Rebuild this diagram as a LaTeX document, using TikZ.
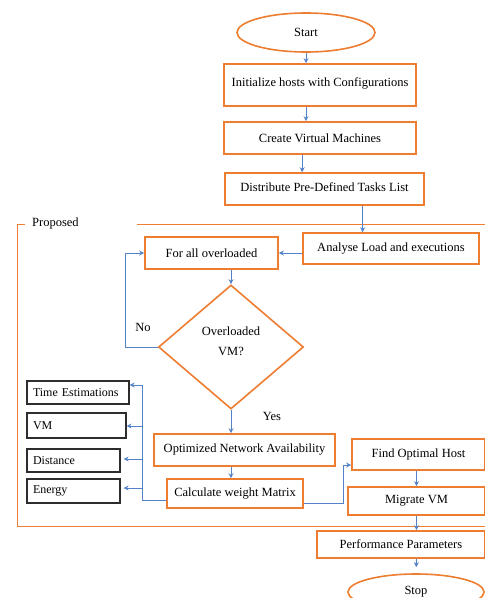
\documentclass[tikz,border=0pt]{standalone}
\usepackage{fontspec}
\setmainfont{Liberation Serif}
\usetikzlibrary{shapes.geometric,arrows.meta,calc}
\definecolor{org}{RGB}{237,125,49}
\definecolor{conn}{RGB}{84,130,200}
\definecolor{kline}{RGB}{45,45,45}
\begin{document}
\begin{tikzpicture}[x=1pt,y=-1pt,
  every node/.style={font=\fontsize{12.5}{14}\selectfont},
  obox/.style={draw=org,line width=1.6pt,inner sep=0pt,rectangle},
  oell/.style={draw=org,line width=1.6pt,inner sep=0pt,ellipse},
  dia/.style={draw=org,line width=1.6pt,inner sep=0pt,diamond},
  kbox/.style={draw=kline,line width=1.2pt,inner ysep=0pt,inner xsep=6pt,align=left,rectangle,font=\fontsize{12}{14}\selectfont},
  frameline/.style={draw=org,line width=1pt},
  link/.style={draw=conn,line width=0.9pt},
  arr/.style={link,-{Stealth[length=5pt,width=5pt]}},
  lbl/.style={inner sep=0pt}]
\useasboundingbox (0,0) rectangle (485,598);
\clip (0,0) rectangle (485,598);

% proposed frame
\node[lbl,anchor=west] (prop) at (32,223) {Proposed};
\draw[frameline] (25,224) -- (17,224) -- (17,526) -- (490,526);
\draw[frameline] (137,224) -- (490,224);

% main flow
\node[oell,minimum width=138pt,minimum height=39pt] (start) at (306,32.5) {Start};
\node[obox,minimum width=192pt,minimum height=42pt] (init) at (320,85) {\raisebox{5pt}{Initialize hosts with Configurations}};
\node[obox,minimum width=192pt,minimum height=32pt] (create) at (320,138) {Create Virtual Machines};
\node[obox,minimum width=199pt,minimum height=32pt] (dist) at (324.5,189) {\raisebox{3pt}{Distribute Pre-Defined Tasks List}};
\node[obox,minimum width=176pt,minimum height=31pt] (ana) at (391,248.5) {\raisebox{2pt}{Analyse Load and executions}};
\node[obox,minimum width=133pt,minimum height=32pt] (forall) at (211.5,253) {For all overloaded};
\node[dia,minimum width=145pt,minimum height=124pt,
  label={[align=center,yshift=6pt,font=\fontsize{12.5}{20}\selectfont]center:Overloaded\\VM?}] (dec) at (231,347) {};
\node[obox,minimum width=181pt,minimum height=32pt] (opt) at (244.5,450) {\raisebox{2pt}{Optimized Network Availability}};
\node[obox,minimum width=136pt,minimum height=29pt] (calc) at (235,493.5) {Calculate weight Matrix};
\node[obox,minimum width=133pt,minimum height=31pt] (find) at (418.5,454.5) {\raisebox{2pt}{Find Optimal Host}};
\node[obox,minimum width=137pt,minimum height=28pt] (mig) at (416.5,501) {Migrate VM};
\node[obox,minimum width=168pt,minimum height=27pt] (perf) at (401,544.5) {Performance Parameters};
\node[oell,minimum width=136pt,minimum height=36pt] (stop) at (416,592) {Stop};

% left boxes
\node[kbox,text width=90pt,minimum height=23pt] (timeb) at (78,392.5) {Time~Estimations};
\node[kbox,text width=87pt,minimum height=25pt] (vmb) at (76.5,425.5) {VM};
\node[kbox,text width=81pt,minimum height=23pt] (distb) at (73.5,460.5) {Distance};
\node[kbox,text width=81pt,minimum height=24pt] (enb) at (73.5,491) {Energy};

% labels
\node[lbl] (no) at (143,327) {No};
\node[lbl] (yes) at (272,416) {Yes};

% connectors
\coordinate (da) at ($(dist.south west)+(138.5,0)$);
\coordinate (cd) at ($(create.south west)+(79,0)$);
\draw[arr] (start.south) -- (init.north -| start.south);
\draw[arr] (init.south -| start.south) -- (create.north -| start.south);
\draw[arr] (cd) -- (cd |- dist.north);
\draw[arr] (da) -- (da |- ana.north);
\draw[arr] (forall.east -| ana.west) -- (forall.east);
\draw[arr] (forall.south -| dec.north) -- (dec.north);
\draw[arr] (dec.west) -- (125,347) |- (forall.west);
\draw[arr] (dec.south) -- (opt.north -| dec.south);
\draw[arr] (opt.south -| dec.south) -- (calc.north -| dec.south);

% left fan
\coordinate (jt) at (142,385);
\coordinate (jv) at (142,426);
\coordinate (jd) at (142,459);
\coordinate (je) at (142,488);
\draw[link] ($(calc.south west)+(0,-8)$) -| (jt);
\draw[arr] (jt) -- (jt -| timeb.east);
\draw[arr] (jv) -- (jv -| vmb.east);
\draw[arr,shorten >=3pt] (jd) -- (jd -| distb.east);
\draw[arr,shorten >=3pt] (je) -- (je -| enb.east);

% right path
\coordinate (jr) at (343,465);
\draw[arr] ($(calc.south east)+(0,-5)$) -| (jr) -- (jr -| find.west);
\draw[arr] (find.south -| mig.north) -- (mig.north);
\draw[arr] (mig.south) -- (perf.north -| mig.south);
\draw[arr,shorten >=6pt] (perf.south -| mig.south) -- (stop.north);
\end{tikzpicture}
\end{document}
